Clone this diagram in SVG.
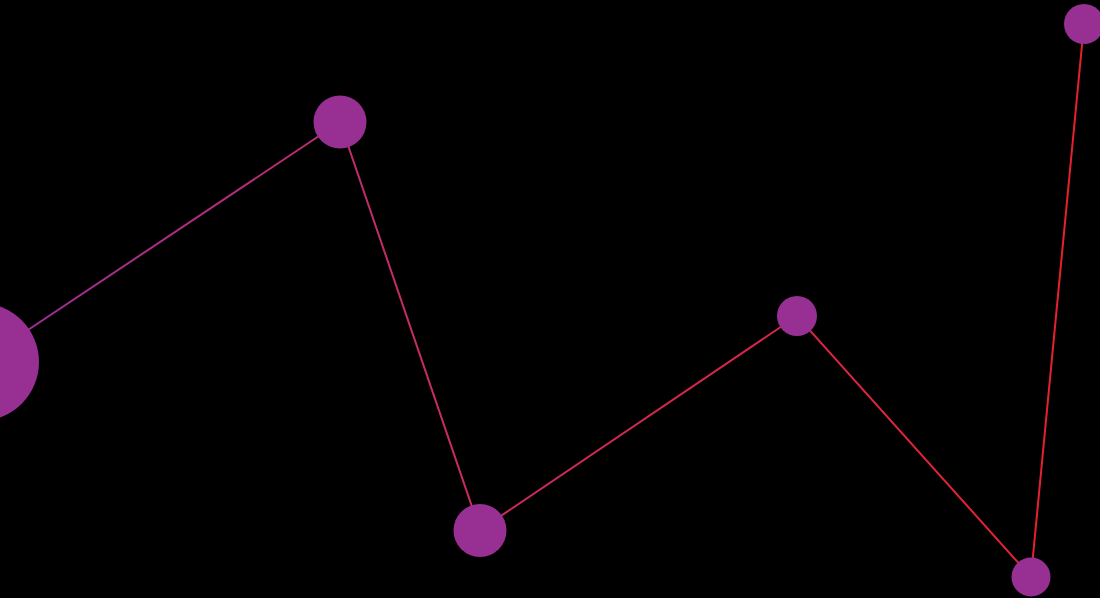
<svg xmlns="http://www.w3.org/2000/svg" width="1100" height="598" viewBox="0 0 1100 598">
<defs>
<linearGradient id="g" gradientUnits="userSpaceOnUse" x1="0" y1="0" x2="1100" y2="0">
<stop offset="0" stop-color="#9b2f96"/>
<stop offset="0.4" stop-color="#c72c62"/>
<stop offset="1" stop-color="#e8202a"/>
</linearGradient>
<style>
.n{fill:#982f92}
.c{fill:none;stroke:url(#g);stroke-width:2}
</style>
</defs>
<rect width="1100" height="598" fill="#000"/>
<g id="connectors">
<polyline class="c" points="-20,362 340,122 480,530 797,316 1031,577 1084,24"/>
</g>
<g id="n1"><circle class="n" cx="-20" cy="362" r="59"/></g>
<g id="n2"><circle class="n" cx="340" cy="122" r="26.5"/></g>
<g id="n3"><circle class="n" cx="480" cy="530.5" r="26.5"/></g>
<g id="n4"><circle class="n" cx="797" cy="316" r="20"/></g>
<g id="n5"><circle class="n" cx="1031" cy="577" r="19.5"/></g>
<g id="n6"><circle class="n" cx="1084" cy="24" r="20"/></g>
</svg>
